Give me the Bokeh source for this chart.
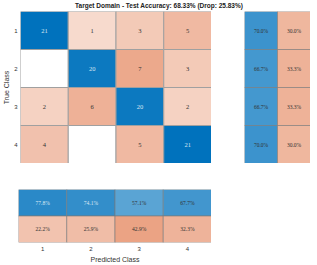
from bokeh.plotting import figure
from bokeh.models import ColumnDataSource, Div, Spacer, FixedTicker
from bokeh.layouts import column, row
from bokeh.embed import file_html
from bokeh.resources import INLINE

classes = ["1", "2", "3", "4"]
counts = [
    [21, 1, 3, 5],
    [0, 20, 7, 3],
    [2, 6, 20, 2],
    [4, 0, 5, 21],
]
row_correct = [70.0, 66.7, 66.7, 70.0]
row_wrong = [30.0, 33.3, 33.3, 30.0]
col_correct = [77.8, 74.1, 57.1, 67.7]
col_wrong = [22.2, 25.9, 42.9, 32.3]
title_text = "Target Domain - Test Accuracy: 68.33% (Drop: 25.83%)"

FONT = "Liberation Sans"
BLUE = (0, 114, 189)
ORANGE = (217, 83, 25)
GRID = "#a0a0a0"


def blend(base, t):
    t = max(0.0, min(1.0, t))
    r, g, b = (int(round(255 * (1 - t) + c * t)) for c in base)
    return "#%02x%02x%02x" % (r, g, b)


def style_axis(ax, label, standoff, label_standoff):
    ax.ticker = FixedTicker(ticks=[1, 2, 3, 4])
    ax.major_label_overrides = {i + 1: c for i, c in enumerate(classes)}
    ax.axis_label = label
    ax.axis_label_text_font = FONT
    ax.axis_label_text_font_style = "normal"
    ax.axis_label_text_font_size = "7px"
    ax.axis_label_standoff = label_standoff
    ax.major_label_text_font = FONT
    ax.major_label_text_font_size = "6px"
    ax.major_label_standoff = standoff
    ax.major_tick_out = 0
    ax.major_tick_in = 0
    ax.minor_tick_out = 0
    ax.minor_tick_in = 0
    ax.major_tick_line_color = None
    ax.minor_tick_line_color = None
    ax.axis_line_color = None
    ax.major_label_text_color = "#333333"
    ax.axis_label_text_color = "#333333"


n = len(classes)
maxdiag = max(counts[i][i] for i in range(n))

# main matrix data
xs, ys, fills, labels, tcols = [], [], [], [], []
for i in range(n):
    for j in range(n):
        v = counts[i][j]
        xs.append(j + 1)
        ys.append(i + 1)
        if v == 0:
            fills.append("#ffffff")
            labels.append("")
        elif i == j:
            fills.append(blend(BLUE, v / maxdiag))
            labels.append(str(v))
        else:
            fills.append(blend(ORANGE, 0.17 + 0.047 * v))
            labels.append(str(v))
        tcols.append("#d8e6f2" if i == j else "#333333")
src = ColumnDataSource(dict(x=xs, y=ys, fill=fills, label=labels, tc=tcols))

main = figure(width=211, height=152, x_range=(0.5, 4.5), y_range=(4.5, 0.5),
              output_backend="svg", toolbar_location=None,
              min_border_left=18, min_border_right=0, min_border_top=0,
              min_border_bottom=0)
main.rect("x", "y", 1, 1, source=src, fill_color="fill", line_color=GRID,
          line_width=1)
main.text("x", "y", text="label", source=src, text_align="center",
          text_baseline="middle", text_font_size="6.5px", text_font=FONT,
          text_color="tc")
main.xaxis.visible = False
style_axis(main.yaxis[0], "True Class", 3, 1)
main.grid.visible = False
main.outline_line_color = None

# right summary (row-normalised)
rx, ry, rf, rl = [], [], [], []
for i in range(n):
    rx.append(1); ry.append(i + 1)
    rf.append(blend(BLUE, 0.12 + 0.92 * row_correct[i] / 100))
    rl.append("%.1f%%" % row_correct[i])
    rx.append(2); ry.append(i + 1)
    rf.append(blend(ORANGE, 0.15 + 0.9 * row_wrong[i] / 100))
    rl.append("%.1f%%" % row_wrong[i])
rsrc = ColumnDataSource(dict(x=rx, y=ry, fill=rf, label=rl))
right = figure(width=66, height=152, x_range=(0.5, 2.5), y_range=(4.5, 0.5),
               output_backend="svg", toolbar_location=None,
               min_border_left=0, min_border_right=0, min_border_top=0,
               min_border_bottom=0)
right.rect("x", "y", 1, 1, source=rsrc, fill_color="fill", line_color="#7a7a7a",
           line_alpha=0.6, line_width=1)
right.text("x", "y", text="label", source=rsrc, text_align="center",
           text_baseline="middle", text_font_size="5.5px", text_font=FONT,
           text_color="#333333")
right.axis.visible = False
right.grid.visible = False
right.outline_line_color = None

# bottom summary (column-normalised)
bx, by, bf, bl, bt = [], [], [], [], []
for j in range(n):
    bx.append(j + 1); by.append(1)
    bf.append(blend(BLUE, 0.12 + 0.92 * col_correct[j] / 100))
    bl.append("%.1f%%" % col_correct[j])
    bt.append("#dce8f4" if col_correct[j] > 72 else "#333333")
    bx.append(j + 1); by.append(2)
    bf.append(blend(ORANGE, 0.15 + 0.9 * col_wrong[j] / 100))
    bl.append("%.1f%%" % col_wrong[j])
    bt.append("#333333")
bsrc = ColumnDataSource(dict(x=bx, y=by, fill=bf, label=bl, tc=bt))
bottom = figure(width=211, height=76, x_range=(0.5, 4.5), y_range=(2.5, 0.5),
                output_backend="svg", toolbar_location=None,
                min_border_left=18, min_border_right=0, min_border_top=0,
                min_border_bottom=22)
bottom.rect("x", "y", 1, 1, source=bsrc, fill_color="fill", line_color="#7a7a7a",
            line_alpha=0.6, line_width=1)
bottom.text("x", "y", text="label", source=bsrc, text_align="center",
            text_baseline="middle", text_font_size="5.5px", text_font=FONT,
            text_color="tc")
bottom.yaxis.visible = False
style_axis(bottom.xaxis[0], "Predicted Class", 4, 2)
bottom.grid.visible = False
bottom.outline_line_color = None

title = Div(text=title_text, width=310, height=11, margin=(0, 0, 0, 0),
            styles={"font-family": FONT, "font-weight": "bold",
                    "font-size": "6.5px", "line-height": "11px",
                    "text-align": "center", "color": "#222222",
                    "box-sizing": "border-box", "padding-left": "8px",
                    "white-space": "nowrap"})

layout = column(
    title,
    row(main, Spacer(width=33, height=152), right),
    Spacer(width=310, height=26),
    row(bottom),
    spacing=0,
)

open("out.html", "w").write(file_html(layout, INLINE))
